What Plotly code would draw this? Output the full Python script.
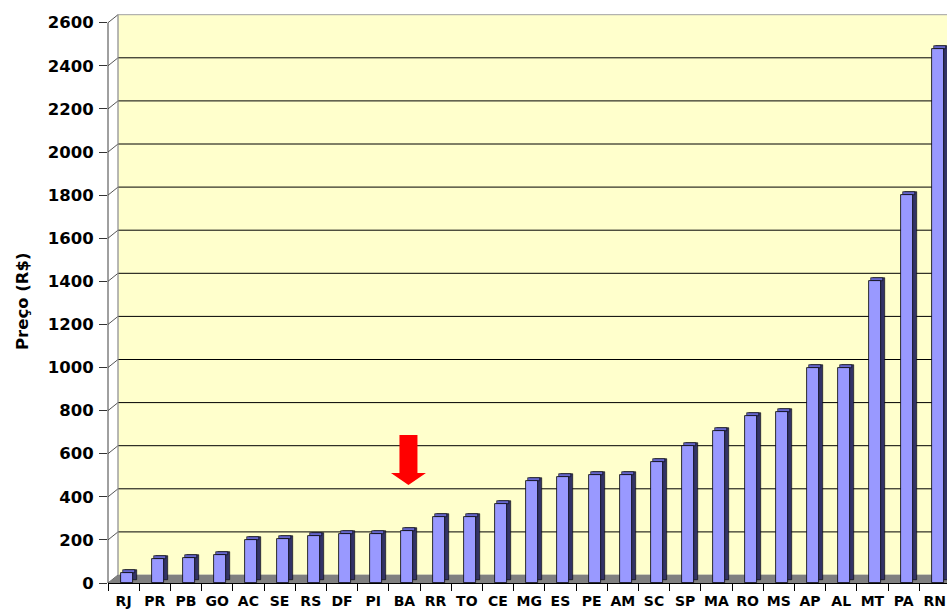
import plotly.graph_objects as go

# ---- data ----
states = ["RJ", "PR", "PB", "GO", "AC", "SE", "RS", "DF", "PI", "BA", "RR", "TO", "CE", "MG",
          "ES", "PE", "AM", "SC", "SP", "MA", "RO", "MS", "AP", "AL", "MT", "PA", "RN"]
prices = [45, 110, 116, 131, 198, 204, 218, 226, 227, 243, 305, 304, 365, 472,
          491, 500, 500, 561, 634, 705, 775, 795, 1000, 1000, 1400, 1800, 2480]
y_ticks = list(range(0, 2601, 200))
highlight = "BA"
y_title = "Preço (R$)"

# ---- layout geometry ----
W, H = 947, 610
ML, MR, MT, MB = 108, 0, 13, 27
Y_MAX = 2645
plot_w = W - ML - MR
plot_h = H - MT - MB
ppu = plot_h / Y_MAX              # pixels per unit (y)
slot = 31.2                        # pixels per category
x_range = [-0.5, -0.5 + plot_w / slot]
wall_dx = 10 / plot_w              # wall depth in paper x
wall_dy = 8 / ppu                  # wall depth in y units
bar_dy = 3 / ppu                   # bar 3D depth in y units

FONT = "DejaVu Sans"
front_col = "#9999ff"
side_col = "#333366"
top_col = "#6666cc"

fig = go.Figure()

# side (depth) face
fig.add_trace(go.Bar(
    x=states, y=prices, base=[bar_dy] * len(prices),
    width=12 / slot, offset=1 / slot,
    marker=dict(color=side_col, line=dict(color="#000000", width=0.6)),
    hoverinfo="skip", showlegend=False))
# top face
fig.add_trace(go.Bar(
    x=states, y=[bar_dy] * len(prices), base=prices,
    width=12 / slot, offset=-1 / slot,
    marker=dict(color=top_col, line=dict(color="#000000", width=0.6)),
    hoverinfo="skip", showlegend=False))
# front face
fig.add_trace(go.Bar(
    x=states, y=prices,
    width=12 / slot, offset=-3 / slot,
    marker=dict(color=front_col, line=dict(color="#000000", width=0.8)),
    name="Preço", showlegend=False))

shapes = []
# back wall
shapes.append(dict(type="rect", xref="paper", yref="y", x0=wall_dx, x1=1.01,
                   y0=wall_dy, y1=y_ticks[-1] + wall_dy,
                   fillcolor="#ffffcc", line=dict(color="#a0a0a0", width=1), layer="below"))
# gridlines on wall + slanted connectors
for v in y_ticks:
    if 0 < v < y_ticks[-1]:
        shapes.append(dict(type="line", xref="paper", yref="y", x0=wall_dx, x1=1.01,
                           y0=v + wall_dy, y1=v + wall_dy,
                           line=dict(color="#000000", width=1), layer="below"))
    shapes.append(dict(type="line", xref="paper", yref="y", x0=0, x1=wall_dx,
                       y0=v, y1=v + wall_dy,
                       line=dict(color="#555555", width=1), layer="below"))
# floor
shapes.append(dict(type="path", xref="paper", yref="y",
                   path=f"M 0,0 L 1.01,0 L 1.01,{wall_dy} L {wall_dx},{wall_dy} Z",
                   fillcolor="#808080", line=dict(width=0), layer="below"))
# left wall vertical edge
shapes.append(dict(type="line", xref="paper", yref="y", x0=wall_dx, x1=wall_dx,
                   y0=wall_dy, y1=y_ticks[-1] + wall_dy,
                   line=dict(color="#a0a0a0", width=1), layer="below"))
# y axis line (front)
shapes.append(dict(type="line", xref="paper", yref="y", x0=0, x1=0,
                   y0=0, y1=y_ticks[-1], line=dict(color="#404040", width=1)))

# red arrow over highlighted state
hi = states.index(highlight)
hv = prices[hi]
ax = hi + 0.13
tip = hv + 212
neck = tip + 12 / ppu
top = tip + 50 / ppu
sw, hw = 9 / slot, 17.5 / slot
shapes.append(dict(type="path", xref="x", yref="y",
                   path=(f"M {ax - sw},{top} L {ax + sw},{top} L {ax + sw},{neck} "
                         f"L {ax + hw},{neck} L {ax},{tip} L {ax - hw},{neck} "
                         f"L {ax - sw},{neck} Z"),
                   fillcolor="#ff0000", line=dict(width=0)))

fig.update_layout(
    width=W, height=H,
    margin=dict(l=ML, r=MR, t=MT, b=MB, pad=0, autoexpand=False),
    paper_bgcolor="#ffffff", plot_bgcolor="#ffffff",
    barmode="overlay", bargap=0,
    shapes=shapes,
    xaxis=dict(type="category", range=x_range, showgrid=False, zeroline=False,
               automargin=False, tickangle=0,
               showline=True, linecolor="#000000", linewidth=1,
               ticks="outside", tickson="boundaries", ticklen=7, tickcolor="#000000",
               ticklabelstandoff=5,
               tickfont=dict(family=FONT, size=14, color="#000000", weight="bold")),
    yaxis=dict(range=[0, Y_MAX], showgrid=False, zeroline=False, showline=False,
               automargin=False,
               tickvals=y_ticks, ticks="outside", ticklen=8, tickcolor="#333333",
               ticklabelstandoff=2,
               tickfont=dict(family=FONT, size=16.5, color="#000000", weight="bold")),
    annotations=[dict(text=y_title, xref="paper", yref="paper",
                      x=-(ML - 22) / plot_w, y=(MT + plot_h - 301) / plot_h,
                      xanchor="center", yanchor="middle", textangle=-90, showarrow=False,
                      font=dict(family=FONT, size=16.5, color="#000000", weight="bold"))],
)

fig.write_html("out.html", config={"displayModeBar": False},
               post_script="document.body.style.margin='0px';document.body.style.overflow='hidden';")
